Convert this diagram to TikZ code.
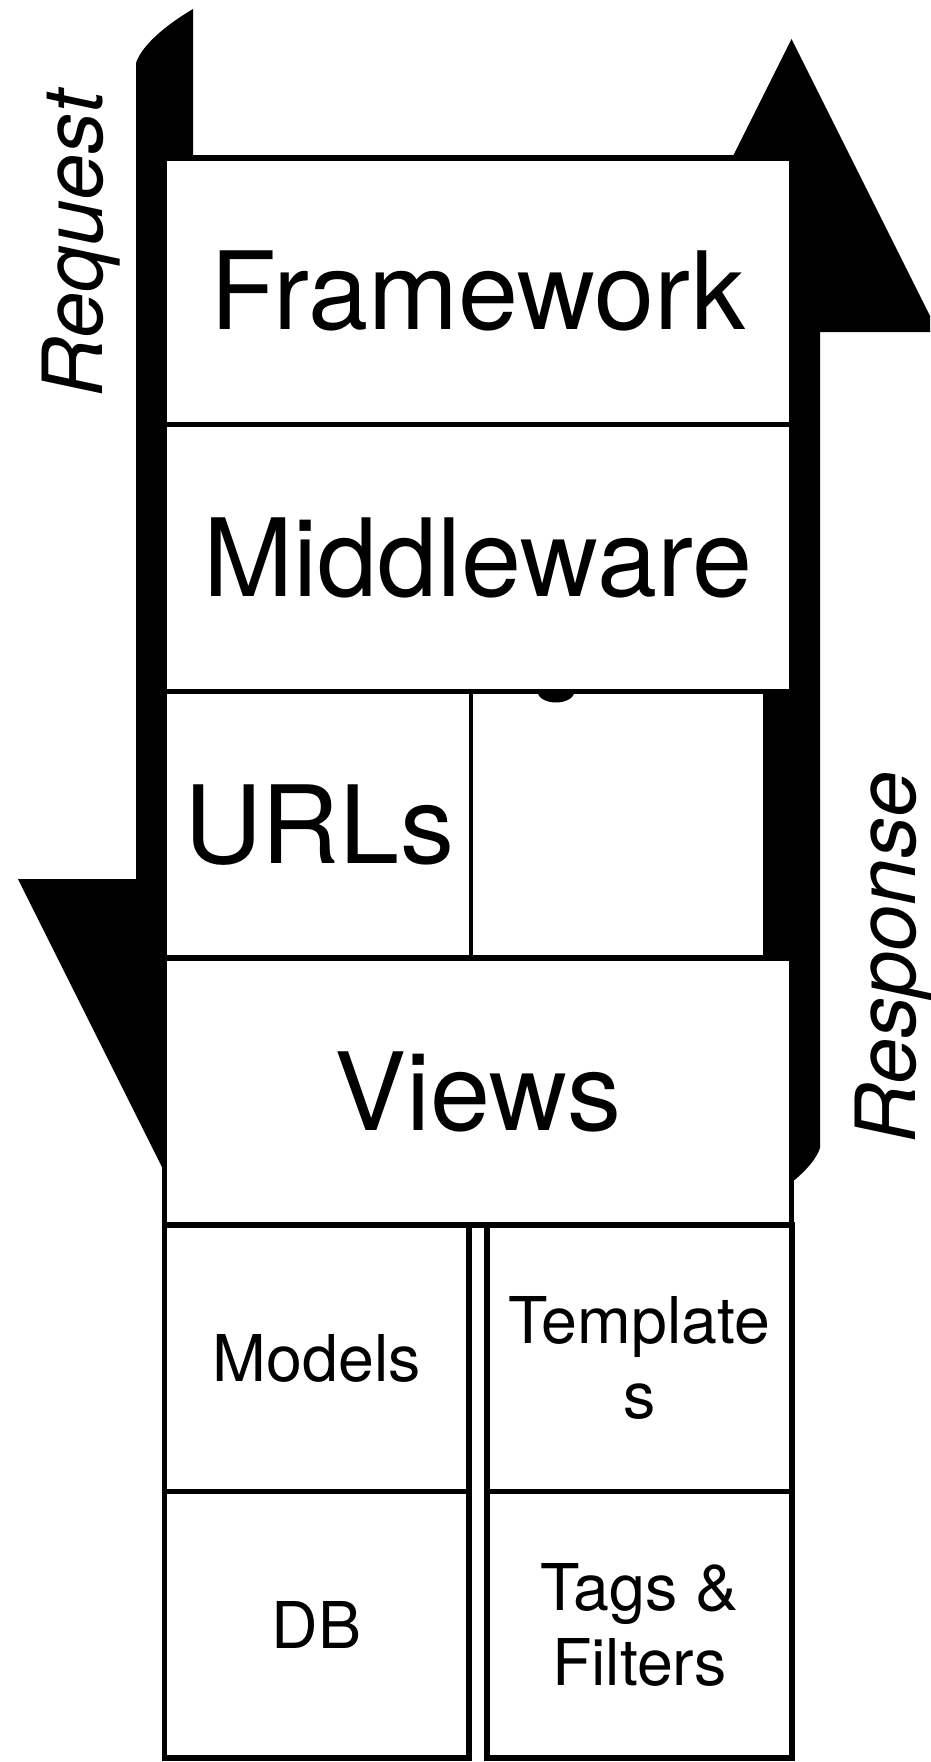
\documentclass[tikz,border=0pt]{standalone}
\usepackage{fontspec}
\setmainfont{TeX Gyre Heros}
\begin{document}
\begin{tikzpicture}[x=1pt,y=-1pt,
  box/.style={draw=black, line width=5.5pt, fill=white, rectangle, inner sep=0pt},
  cell/.style={fill=white, rectangle, inner sep=0pt},
  bigtxt/.style={font=\fontsize{108}{130}\selectfont},
  smalltxt/.style={font=\fontsize{64.5}{75}\selectfont, align=center},
  sidetxt/.style={font=\fontsize{83}{100}\selectfont\itshape, rotate=90, anchor=base, inner sep=0pt},
  arrowfill/.style={fill=black}]
\useasboundingbox (0,0) rectangle (930,1762);
\fill[white] (0,0) rectangle (930,1762);
\begin{scope}
\clip (0,0) rectangle (930,1762);
% Request arrow (downwards)
\fill[arrowfill] (136,63) .. controls (142,45) and (166,25) .. (193,9) -- (193,879) -- (311,879) -- (164.5,1172) -- (18,879) -- (136,879) -- cycle;
% Response arrow (upwards)
\fill[arrowfill] (820,1148) .. controls (814,1166) and (790,1186) .. (763,1202) -- (763,332) -- (645,332) -- (791.5,39) -- (938,332) -- (820,332) -- cycle;
\end{scope}
% URLs row (fill only, borders come from neighbours)
\node[cell, bigtxt, minimum width=304pt, minimum height=266.7pt] (urls) at (319,824.75) {URLs};
\node[cell, minimum width=291pt, minimum height=266.7pt] (blank) at (616.5,824.75) {};
% stacked boxes
\node[box, bigtxt, minimum width=627pt, minimum height=266.7pt] (fw) at (478,291.35) {Framework};
\node[box, bigtxt, minimum width=627pt, minimum height=266.7pt] (mw) at (478,558.05) {Middleware};
\node[box, bigtxt, minimum width=627pt, minimum height=266.7pt] (views) at (478,1091.45) {Views};
\node[box, smalltxt, minimum width=304.5pt, minimum height=266.7pt] (models) at (316.75,1358.15) {Models};
\node[box, smalltxt, minimum width=305pt, minimum height=266.7pt] (tmpl) at (639.5,1358.15) {Template\\s};
\node[box, smalltxt, minimum width=304.5pt, minimum height=266.7pt] (db) at (316.75,1624.85) {DB};
\node[box, smalltxt, minimum width=305pt, minimum height=266.7pt] (tags) at (639.5,1624.85) {Tags \&\\Filters};
% thin divider in URLs row
\draw[line width=3.5pt] (urls.north east) -- (urls.south east);
% small bump under Middleware
\fill (537,692) .. controls (541,706) and (571,706) .. (575,692) -- cycle;
% side labels
\node[sidetxt] (req) at (102,244) {Request};
\node[sidetxt] (resp) at (915,957.5) {Response};
\end{tikzpicture}
\end{document}
